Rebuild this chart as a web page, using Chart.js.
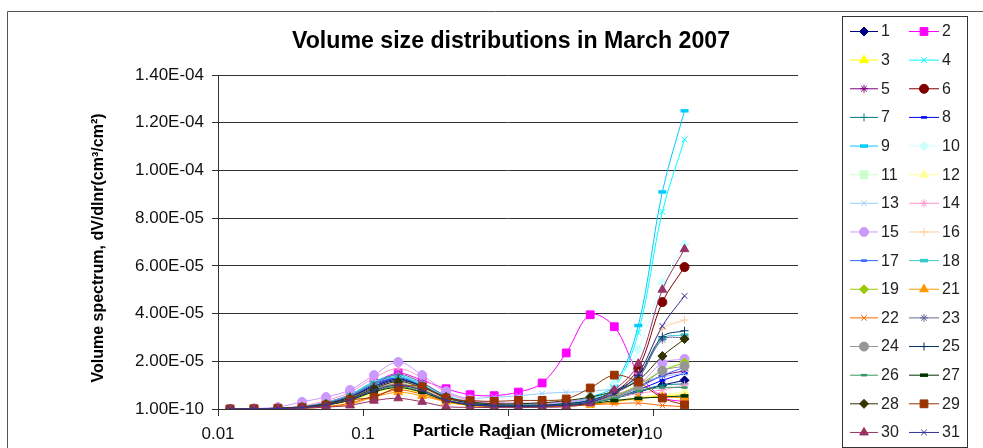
<!DOCTYPE html>
<html>
<head>
<meta charset="utf-8">
<title>Volume size distributions in March 2007</title>
<script src="https://cdn.jsdelivr.net/npm/chart.js@4.4.1/dist/chart.umd.min.js"></script>
<style>
  html, body { margin: 0; padding: 0; background: #fff; }
  #wrap { width: 983px; height: 448px; position: relative; overflow: hidden; }
</style>
</head>
<body>
<div id="wrap"><canvas id="c" width="983" height="448"></canvas></div>
<script>
// Particle radius bins (micrometer)
const RADIUS = [0.0121, 0.0177, 0.0259, 0.0380, 0.0556, 0.0814, 0.119, 0.175, 0.256, 0.374,
                0.548, 0.803, 1.18, 1.72, 2.52, 3.69, 5.41, 7.92, 11.6, 16.5];

// Volume spectrum values, in units of 1e-5 cm3/cm2, one array per day
const d1  = [0, 0.01, 0.03, 0.08, 0.20, 0.45, 0.90, 1.20, 0.95, 0.50, 0.25, 0.18, 0.16, 0.17, 0.22, 0.30, 0.45, 0.70, 1.00, 1.20];
const d2  = [0, 0.01, 0.03, 0.10, 0.28, 0.60, 1.10, 1.50, 1.20, 0.85, 0.60, 0.56, 0.71, 1.09, 2.35, 3.95, 3.45, 1.50, 0.50, 0.30];
const d3  = [0, 0.01, 0.02, 0.05, 0.15, 0.35, 0.70, 0.90, 0.65, 0.30, 0.15, 0.10, 0.10, 0.10, 0.13, 0.20, 0.30, 0.45, 0.55, 0.60];
const d4  = [0, 0.01, 0.03, 0.10, 0.25, 0.55, 1.05, 1.30, 1.00, 0.55, 0.30, 0.22, 0.20, 0.22, 0.30, 0.45, 0.90, 3.20, 8.27, 11.30];
const d5  = [0, 0.01, 0.03, 0.08, 0.22, 0.50, 0.95, 1.25, 0.95, 0.50, 0.25, 0.18, 0.16, 0.17, 0.22, 0.32, 0.55, 0.95, 1.40, 1.60];
const d6  = [0, 0.01, 0.02, 0.07, 0.18, 0.42, 0.80, 1.05, 0.80, 0.40, 0.20, 0.15, 0.14, 0.15, 0.20, 0.30, 0.70, 1.70, 4.48, 5.95];
const d7  = [0, 0.01, 0.02, 0.06, 0.17, 0.40, 0.80, 1.10, 0.85, 0.45, 0.22, 0.15, 0.13, 0.14, 0.18, 0.28, 0.45, 0.75, 1.00, 1.05];
const d8  = [0, 0.01, 0.03, 0.09, 0.24, 0.52, 1.00, 1.30, 1.00, 0.50, 0.25, 0.17, 0.15, 0.15, 0.20, 0.28, 0.45, 0.80, 1.20, 1.50];
const d9  = [0, 0.01, 0.03, 0.10, 0.27, 0.60, 1.15, 1.40, 1.05, 0.55, 0.30, 0.22, 0.20, 0.22, 0.30, 0.50, 1.00, 3.50, 9.10, 12.50];
const d10 = [0, 0.01, 0.03, 0.10, 0.25, 0.55, 1.05, 1.35, 1.00, 0.55, 0.30, 0.22, 0.20, 0.22, 0.32, 0.55, 1.10, 2.50, 5.30, 6.90];
const d11 = [0, 0.01, 0.02, 0.07, 0.20, 0.45, 0.85, 1.10, 0.85, 0.42, 0.22, 0.15, 0.14, 0.15, 0.20, 0.30, 0.50, 0.95, 1.70, 1.90];
const d12 = [0, 0.01, 0.02, 0.05, 0.14, 0.32, 0.65, 0.85, 0.62, 0.30, 0.15, 0.10, 0.10, 0.10, 0.14, 0.22, 0.35, 0.50, 0.60, 0.70];
const d13 = [0, 0.01, 0.03, 0.10, 0.26, 0.58, 1.10, 1.35, 1.05, 0.60, 0.45, 0.50, 0.55, 0.65, 0.70, 0.75, 0.85, 1.10, 1.35, 1.50];
const d14 = [0, 0.01, 0.04, 0.13, 0.35, 0.70, 1.30, 1.70, 1.30, 0.70, 0.35, 0.25, 0.22, 0.22, 0.28, 0.38, 0.50, 0.65, 0.80, 1.00];
const d15 = [0, 0.02, 0.08, 0.30, 0.50, 0.80, 1.42, 1.97, 1.42, 0.75, 0.40, 0.28, 0.25, 0.26, 0.30, 0.42, 0.60, 1.00, 1.93, 2.10];
const d16 = [0, 0.01, 0.03, 0.08, 0.20, 0.45, 0.85, 1.10, 0.85, 0.45, 0.22, 0.16, 0.15, 0.16, 0.22, 0.35, 0.65, 1.50, 3.35, 3.73];
const d17 = [0, 0.01, 0.03, 0.09, 0.25, 0.55, 1.05, 1.30, 0.98, 0.50, 0.25, 0.17, 0.15, 0.16, 0.20, 0.30, 0.50, 0.90, 1.40, 1.75];
const d18 = [0, 0.01, 0.03, 0.10, 0.27, 0.58, 1.10, 1.35, 1.00, 0.52, 0.27, 0.19, 0.17, 0.18, 0.24, 0.38, 0.70, 1.30, 2.95, 3.10];
const d19 = [0, 0.01, 0.02, 0.07, 0.19, 0.42, 0.80, 1.00, 0.78, 0.40, 0.20, 0.14, 0.13, 0.14, 0.19, 0.30, 0.55, 1.00, 1.60, 1.95];
const d21 = [0, 0.00, 0.01, 0.03, 0.08, 0.20, 0.50, 0.70, 0.55, 0.30, 0.15, 0.10, 0.09, 0.10, 0.12, 0.18, 0.30, 0.45, 0.50, 0.47];
const d22 = [0, 0.00, 0.01, 0.04, 0.10, 0.25, 0.55, 0.80, 0.62, 0.32, 0.15, 0.10, 0.09, 0.10, 0.12, 0.18, 0.22, 0.25, 0.15, 0.10];
const d23 = [0, 0.01, 0.03, 0.09, 0.25, 0.55, 1.05, 1.45, 1.10, 0.55, 0.27, 0.18, 0.16, 0.17, 0.22, 0.35, 0.65, 1.30, 2.90, 3.00];
const d24 = [0, 0.01, 0.02, 0.07, 0.19, 0.43, 0.82, 1.05, 0.80, 0.40, 0.20, 0.14, 0.13, 0.14, 0.19, 0.30, 0.50, 0.90, 1.60, 1.80];
const d25 = [0, 0.01, 0.03, 0.08, 0.22, 0.50, 0.95, 1.25, 0.95, 0.48, 0.24, 0.17, 0.15, 0.16, 0.22, 0.36, 0.75, 1.40, 3.03, 3.28];
const d26 = [0, 0.01, 0.02, 0.06, 0.17, 0.38, 0.75, 0.95, 0.72, 0.36, 0.18, 0.13, 0.12, 0.13, 0.17, 0.26, 0.45, 0.75, 0.90, 0.90];
const d27 = [0, 0.01, 0.02, 0.06, 0.16, 0.37, 0.72, 0.90, 0.70, 0.35, 0.18, 0.12, 0.11, 0.12, 0.15, 0.22, 0.35, 0.45, 0.50, 0.55];
const d28 = [0, 0.01, 0.03, 0.08, 0.20, 0.45, 0.85, 1.15, 0.90, 0.50, 0.30, 0.22, 0.22, 0.26, 0.35, 0.50, 0.75, 1.20, 2.22, 2.93];
const d29 = [0, 0.01, 0.02, 0.06, 0.16, 0.38, 0.50, 0.90, 0.93, 0.45, 0.35, 0.32, 0.36, 0.36, 0.42, 0.88, 1.42, 1.13, 0.46, 0.17];
const d30 = [0, 0.00, 0.01, 0.03, 0.08, 0.15, 0.35, 0.45, 0.30, 0.10, 0.07, 0.06, 0.06, 0.07, 0.10, 0.25, 0.80, 1.90, 5.00, 6.70];
const d31 = [0, 0.01, 0.02, 0.06, 0.17, 0.40, 0.78, 1.00, 0.78, 0.38, 0.19, 0.13, 0.12, 0.13, 0.18, 0.30, 0.65, 1.50, 3.48, 4.74];

const DAYS = ['1','2','3','4','5','6','7','8','9','10','11','12','13','14','15','16','17','18','19',
              '21','22','23','24','25','26','27','28','29','30','31'];
const DAY_VALUES = [d1, d2, d3, d4, d5, d6, d7, d8, d9, d10, d11, d12, d13, d14, d15, d16, d17, d18, d19,
                    d21, d22, d23, d24, d25, d26, d27, d28, d29, d30, d31];
const UNIT = 1e-5;

const Y_TICKS = [0, 2e-5, 4e-5, 6e-5, 8e-5, 1e-4, 1.2e-4, 1.4e-4];
const Y_TICK_LABELS = ['1.00E-10', '2.00E-05', '4.00E-05', '6.00E-05', '8.00E-05', '1.00E-04', '1.20E-04', '1.40E-04'];
const X_TICKS = [0.01, 0.1, 1, 10];
const X_TICK_LABELS = ['0.01', '0.1', '1', '10'];

const TITLE = 'Volume size distributions in March 2007';
const X_TITLE = 'Particle Radian (Micrometer)';
const Y_TITLE = 'Volume spectrum, dV/dlnr(cm\u00B3/cm\u00B2)';

// Spreadsheet-style series palette and marker cycle (keyed by day number)
const PALETTE = {
  1:'#000080', 2:'#FF00FF', 3:'#FFFF00', 4:'#00FFFF', 5:'#800080', 6:'#800000', 7:'#008080', 8:'#0000FF',
  9:'#00CCFF', 10:'#CCFFFF', 11:'#CCFFCC', 12:'#FFFF99', 13:'#99CCFF', 14:'#FF99CC', 15:'#CC99FF',
  16:'#FFCC99', 17:'#3366FF', 18:'#33CCCC', 19:'#99CC00', 21:'#FF9900', 22:'#FF6600', 23:'#666699',
  24:'#969696', 25:'#003366', 26:'#339966', 27:'#003300', 28:'#333300', 29:'#993300', 30:'#993366', 31:'#333399'
};
const MARKERS = ['rectRot', 'rect', 'triangle', 'crossRot', 'star', 'circle', 'cross', 'line', 'longline'];
const MARKER_SIZE = { rectRot: 4.5, rect: 5.5, triangle: 5, crossRot: 4, star: 4, circle: 4.5, cross: 4, line: 3, longline: 4 };

const FONT = '"Liberation Sans", Arial, sans-serif';

const datasets = DAYS.map((day, i) => {
  const n = parseInt(day, 10);
  const kind = MARKERS[(n - 1) % MARKERS.length];
  const color = PALETTE[n];
  const style = kind === 'longline' ? 'line' : kind;
  return {
    label: day,
    data: DAY_VALUES[i].map((v, k) => ({ x: RADIUS[k], y: v * UNIT })),
    borderColor: color,
    backgroundColor: color,
    borderWidth: 1,
    tension: 0.35,
    pointStyle: style,
    pointRadius: MARKER_SIZE[kind],
    pointHoverRadius: MARKER_SIZE[kind],
    pointBackgroundColor: color,
    pointBorderColor: color,
    pointBorderWidth: kind === 'longline' ? 3.5 : (kind === 'line' ? 2.5 : 1),
    order: DAYS.length - i
  };
});

function drawMarker(ctx, ds, x, y) {
  ctx.save();
  ctx.fillStyle = ds.pointBackgroundColor;
  ctx.strokeStyle = ds.pointBorderColor;
  ctx.lineWidth = ds.pointBorderWidth;
  Chart.helpers.drawPoint(ctx, {
    pointStyle: ds.pointStyle, radius: ds.pointRadius, rotation: 0, borderWidth: ds.pointBorderWidth
  }, x, y);
  ctx.restore();
}

const decorations = {
  id: 'decorations',
  beforeDraw(chart) {
    const ctx = chart.ctx;
    ctx.save();
    ctx.fillStyle = '#ffffff';
    ctx.fillRect(0, 0, chart.width, chart.height);
    ctx.strokeStyle = '#555';
    ctx.lineWidth = 1;
    ctx.beginPath();
    ctx.moveTo(7.5, chart.height);
    ctx.lineTo(7.5, 11.5);
    ctx.lineTo(chart.width, 11.5);
    ctx.stroke();
    ctx.restore();
  },
  afterDraw(chart) {
    const ctx = chart.ctx;
    ctx.save();
    ctx.fillStyle = '#000';
    ctx.textBaseline = 'middle';
    ctx.textAlign = 'center';

    // chart title
    ctx.font = 'bold 24px ' + FONT;
    const tw = ctx.measureText(TITLE).width;
    ctx.save();
    ctx.translate(511, 41);
    ctx.scale(438 / tw, 1);
    ctx.fillText(TITLE, 0, 0);
    ctx.restore();

    // axis titles
    ctx.font = 'bold 17px ' + FONT;
    ctx.fillText(X_TITLE, 528, 431);

    ctx.font = 'bold 16px ' + FONT;
    ctx.save();
    ctx.translate(99, 248);
    ctx.rotate(-Math.PI / 2);
    ctx.fillText(Y_TITLE, 0, 0);
    ctx.restore();

    // legend box, two columns
    ctx.strokeStyle = '#333';
    ctx.lineWidth = 1;
    ctx.strokeRect(842.5, 16.5, 125, 431);
    ctx.font = '16px ' + FONT;
    ctx.textAlign = 'left';
    ctx.fillStyle = '#222';
    const cols = [{ x0: 850, x1: 878, mx: 864, tx: 881 }, { x0: 909, x1: 939, mx: 924, tx: 942 }];
    chart.data.datasets.forEach((ds, i) => {
      const col = cols[i % 2];
      const y = 31 + Math.floor(i / 2) * 28.64;
      ctx.strokeStyle = ds.borderColor;
      ctx.lineWidth = 1;
      ctx.beginPath();
      ctx.moveTo(col.x0, y + 0.5);
      ctx.lineTo(col.x1, y + 0.5);
      ctx.stroke();
      drawMarker(ctx, ds, col.mx, y + 0.5);
      ctx.fillStyle = '#222';
      ctx.fillText(ds.label, col.tx, y + 1);
    });
    ctx.restore();
  }
};

new Chart(document.getElementById('c'), {
  type: 'line',
  data: { datasets },
  options: {
    responsive: false,
    animation: false,
    devicePixelRatio: 1,
    layout: { padding: { left: 8, right: 185, top: 75, bottom: 0 } },
    plugins: { legend: { display: false }, title: { display: false }, tooltip: { enabled: false } },
    scales: {
      x: {
        type: 'logarithmic',
        min: 0.01,
        max: 100,
        afterBuildTicks: (scale) => { scale.ticks = X_TICKS.map(v => ({ value: v })); },
        afterFit: (scale) => { scale.height = 39; },
        grid: { display: true, drawOnChartArea: false, drawTicks: true, tickLength: 7, color: '#333' },
        border: { display: true, color: '#333' },
        ticks: {
          autoSkip: false, maxRotation: 0, padding: 8, color: '#111',
          font: { family: FONT, size: 17 },
          callback: (v, i) => X_TICK_LABELS[i]
        }
      },
      y: {
        type: 'linear',
        min: 0,
        max: 1.4e-4,
        afterBuildTicks: (scale) => { scale.ticks = Y_TICKS.map(v => ({ value: v })); },
        afterFit: (scale) => { scale.width = 210; },
        grid: { color: '#333', lineWidth: 1, tickLength: 6 },
        border: { display: true, color: '#333' },
        ticks: {
          padding: 8, color: '#111',
          font: { family: FONT, size: 17 },
          callback: (v, i) => Y_TICK_LABELS[i]
        }
      }
    }
  },
  plugins: [decorations]
});
</script>
</body>
</html>
